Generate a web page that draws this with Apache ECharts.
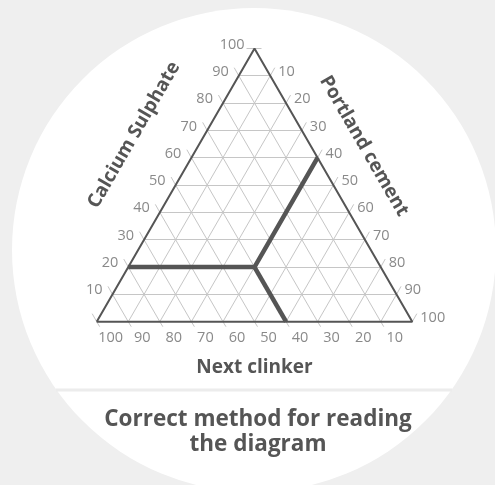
<!DOCTYPE html>
<html>
<head>
<meta charset="utf-8">
<script src="https://cdn.jsdelivr.net/npm/echarts@6/dist/echarts.min.js"></script>
<style>
html,body{margin:0;padding:0;background:#efefef;}
#chart{width:495px;height:485px;}
</style>
</head>
<body>
<div id="chart"></div>
<script>
// ---- data ----
const gridSteps = [10, 20, 30, 40, 50, 60, 70, 80, 90];
const calciumSulphateTicks = [10, 20, 30, 40, 50, 60, 70, 80, 90, 100];
const portlandCementTicks = [10, 20, 30, 40, 50, 60, 70, 80, 90, 100];
const nextClinkerTicks = [100, 90, 80, 70, 60, 50, 40, 30, 20, 10];
// reading example: Calcium Sulphate, Portland cement, Next clinker (%)
const readingPoint = { cs: 20, pc: 40, nc: 40 };

const axisTitles = { left: 'Calcium Sulphate', right: 'Portland cement', bottom: 'Next clinker' };
const chartTitle = 'Correct method for reading\nthe diagram';

// ---- layout ----
const W = 495, H = 485;
const S = 315.6;           // px per unit (triangle side)
const X0 = 96.7, Y0 = 321.7; // pixel of bottom-left vertex
const R3 = Math.sqrt(3) / 2;

// ternary (cs = top, pc = bottom-right, nc = bottom-left) -> cartesian
function tern(cs, pc) { return [(pc + cs / 2) / 100, cs * R3 / 100]; }
function off(p, dxPx, dyPx) { return [p[0] + dxPx / S, p[1] - dyPx / S]; }

const TEXT = '#555555';
const TICKTXT = '#6b6b6b';
const GRID = '#c6c6c6';
const FONT = '"Open Sans", "Noto Sans", sans-serif';

// gridlines
const gridLines = [];
gridSteps.forEach(k => {
  gridLines.push({ coords: [tern(k, 0), tern(k, 100 - k)] });       // constant CS
  gridLines.push({ coords: [tern(0, k), tern(100 - k, k)] });       // constant PC
  gridLines.push({ coords: [tern(0, 100 - k), tern(100 - k, 0)] }); // constant NC
});

// tick marks
const tickLines = [];
[0].concat(calciumSulphateTicks.slice(0, 9)).forEach(k => {
  const p = tern(k, 0); tickLines.push({ coords: [p, off(p, -4.5, -8)] });
});
portlandCementTicks.forEach(k => {
  const p = tern(100 - k, k); tickLines.push({ coords: [p, off(p, 4.5, -8)] });
});
nextClinkerTicks.forEach(k => {
  const p = tern(0, 100 - k); tickLines.push({ coords: [p, off(p, 3, 5)] });
});
const apex = tern(100, 0);
tickLines.push({ coords: [off(apex, -8, 0), off(apex, 7, 0)] });

// triangle frame
const frame = [tern(0, 0), tern(0, 100), tern(100, 0), tern(0, 0)];

// reading path
const P = tern(readingPoint.cs, readingPoint.pc);
const readLeft = tern(readingPoint.cs, 0);
const readRight = tern(100 - readingPoint.pc, readingPoint.pc);
const readBottom = tern(0, 100 - readingPoint.nc);

// label data
const leftLabels = calciumSulphateTicks.map(k => ({ name: String(k), value: tern(k, 0) }));
const rightLabels = portlandCementTicks.map(k => ({ name: String(k), value: tern(100 - k, k) }));
const bottomLabels = nextClinkerTicks.map(k => ({ name: String(k), value: tern(0, 100 - k) }));

function labelSeries(data, align, offset) {
  return {
    type: 'scatter', data: data, symbolSize: 0, silent: true, clip: false, z: 5,
    label: {
      show: true, position: 'inside', formatter: p => p.name,
      align: align, verticalAlign: 'middle', offset: offset,
      color: TICKTXT, fontSize: 14.5, fontFamily: FONT
    }
  };
}

const chart = echarts.init(document.getElementById('chart'), null, { renderer: 'canvas' });
chart.setOption({
  backgroundColor: '#efefef',
  animation: false,
  grid: { left: 0, right: 0, top: 0, bottom: 0 },
  xAxis: { type: 'value', min: -X0 / S, max: (W - X0) / S, show: false },
  yAxis: { type: 'value', min: -(H - Y0) / S, max: Y0 / S, show: false },
  graphic: [
    { type: 'circle', shape: { cx: 254, cy: 250, r: 242 }, style: { fill: '#ffffff' }, z: 0 },
    { type: 'line', shape: { x1: 56, y1: 390, x2: 452, y2: 390 }, style: { stroke: '#ececec', lineWidth: 3 }, z: 1 },
    { type: 'text', x: 134, y: 135, rotation: Math.PI / 3, z: 10,
      style: { text: axisTitles.left, fill: TEXT, font: 'bold 19px ' + FONT, textAlign: 'center', textVerticalAlign: 'middle' } },
    { type: 'text', x: 364, y: 146, rotation: -Math.PI / 3, z: 10,
      style: { text: axisTitles.right, fill: TEXT, font: 'bold 19px ' + FONT, textAlign: 'center', textVerticalAlign: 'middle' } },
    { type: 'text', x: 254.5, y: 368, z: 10,
      style: { text: axisTitles.bottom, fill: TEXT, font: 'bold 19px ' + FONT, textAlign: 'center', textVerticalAlign: 'middle' } },
    { type: 'text', x: 258, y: 432, z: 10,
      style: { text: chartTitle, fill: TEXT, font: 'bold 22.5px ' + FONT, textAlign: 'center', textVerticalAlign: 'middle', lineHeight: 25 } }
  ],
  series: [
    { type: 'lines', coordinateSystem: 'cartesian2d', polyline: false, silent: true, z: 2,
      lineStyle: { color: GRID, width: 1, opacity: 1 }, data: gridLines },
    { type: 'lines', coordinateSystem: 'cartesian2d', polyline: false, silent: true, z: 2,
      lineStyle: { color: GRID, width: 1, opacity: 1 }, data: tickLines },
    { type: 'line', data: frame, symbol: 'none', silent: true, z: 3,
      lineStyle: { color: '#555555', width: 2 } },
    { type: 'lines', coordinateSystem: 'cartesian2d', polyline: true, silent: true, z: 4,
      lineStyle: { color: '#555555', width: 4.5, opacity: 1, join: 'miter' },
      data: [{ coords: [readLeft, P, readRight] }, { coords: [P, readBottom] }] },
    labelSeries(leftLabels, 'right', [-10, -4]),
    labelSeries(rightLabels, 'left', [8, -4]),
    labelSeries(bottomLabels, 'center', [14, 16])
  ]
});
</script>
</body>
</html>
